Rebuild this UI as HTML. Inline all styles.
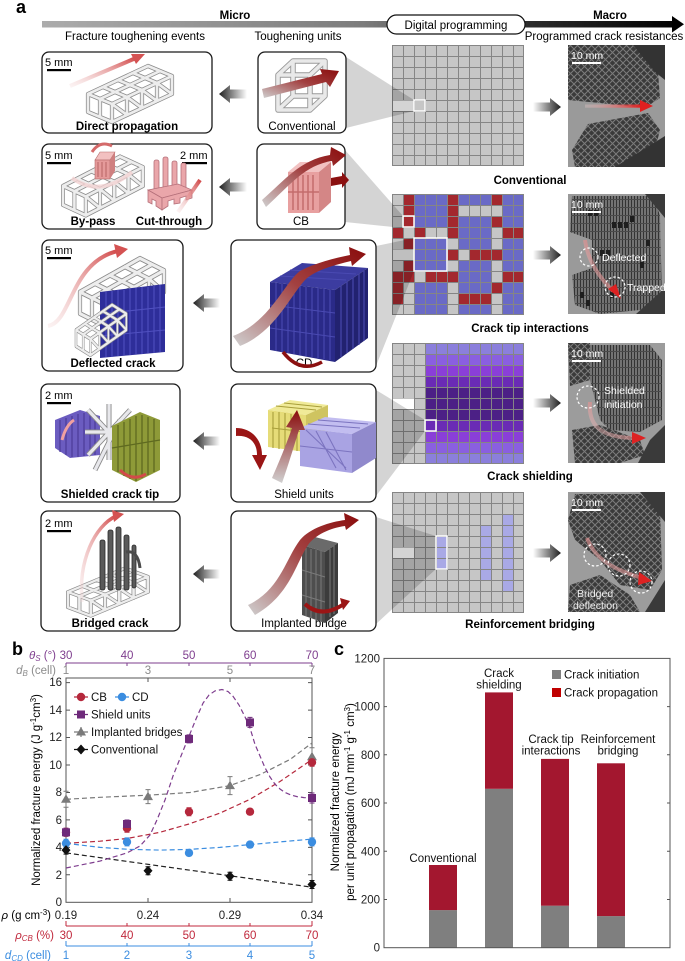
<!DOCTYPE html>
<html><head><meta charset="utf-8"><style>
html,body{margin:0;padding:0;background:#fff}
svg{display:block}
text{font-family:"Liberation Sans",Arial,sans-serif}
</style></head><body>
<svg width="685" height="961" viewBox="0 0 685 961" xmlns="http://www.w3.org/2000/svg">
<defs>
<linearGradient id="bar" gradientUnits="userSpaceOnUse" x1="42" y1="0" x2="684" y2="0"><stop offset="0" stop-color="#acacac"/><stop offset="0.5" stop-color="#7c7c7c"/><stop offset="0.75" stop-color="#2e2e2e"/><stop offset="1" stop-color="#000"/></linearGradient>
<linearGradient id="gl" x1="0" y1="0" x2="1" y2="0"><stop offset="0" stop-color="#1e1e1e"/><stop offset="1" stop-color="#fff"/></linearGradient>
<linearGradient id="gr" x1="0" y1="0" x2="1" y2="0"><stop offset="0" stop-color="#fff"/><stop offset="1" stop-color="#1e1e1e"/></linearGradient>
<linearGradient id="rg" x1="0" y1="1" x2="1" y2="0"><stop offset="0" stop-color="#f3d5d5" stop-opacity="0.3"/><stop offset="1" stop-color="#d24a4a"/></linearGradient>
<linearGradient id="rh" x1="0" y1="0" x2="1" y2="0"><stop offset="0" stop-color="#f0d0d0" stop-opacity="0.3"/><stop offset="1" stop-color="#e02020"/></linearGradient>
<linearGradient id="rib" x1="0" y1="1" x2="1" y2="0"><stop offset="0" stop-color="#cfcfcf"/><stop offset="0.55" stop-color="#a24040"/><stop offset="1" stop-color="#8a0c0c"/></linearGradient>
<linearGradient id="ribv" x1="0" y1="1" x2="0" y2="0"><stop offset="0" stop-color="#d0d0d0"/><stop offset="1" stop-color="#8a0c0c"/></linearGradient>
<pattern id="cells" width="11" height="11" patternUnits="userSpaceOnUse"><path d="M0 0.5H11M0.5 0V11" stroke="#858585" stroke-width="1" fill="none"/></pattern>
<pattern id="mesh" width="7" height="7" patternUnits="userSpaceOnUse"><rect width="7" height="7" fill="#3a3a3a"/><path d="M0 0L7 7M7 0L0 7" stroke="#7c7c7c" stroke-width="1"/></pattern>
<pattern id="mesh2" width="6" height="8" patternUnits="userSpaceOnUse"><rect width="6" height="8" fill="#7a7a7a"/><path d="M1.5 0V8M4.5 0V8" stroke="#333" stroke-width="1.2"/><path d="M0 7.5H6" stroke="#4a4a4a" stroke-width="1"/></pattern>
<g id="lat">
<path d="M0 0L60 -28M12 5L72 -23M24 10L84 -18M0 0L24 10M15 -7L39 3M30 -14L54 -4M45 -21L69 -11M60 -28L84 -18M24 10V28M39 3V21M54 -4V14M69 -11V7M84 -18V0M0 0V18M12 5V23M24 28L84 0M0 18L24 28M24 10L39 21M39 3L54 14M54 -4L69 7M69 -11L84 0" stroke="#8a8a8a" stroke-width="4.2" fill="none" stroke-linecap="round"/>
<path d="M0 0L60 -28M12 5L72 -23M24 10L84 -18M0 0L24 10M15 -7L39 3M30 -14L54 -4M45 -21L69 -11M60 -28L84 -18M24 10V28M39 3V21M54 -4V14M69 -11V7M84 -18V0M0 0V18M12 5V23M24 28L84 0M0 18L24 28M24 10L39 21M39 3L54 14M54 -4L69 7M69 -11L84 0" stroke="#ededed" stroke-width="2.7" fill="none" stroke-linecap="round"/>
</g>
<clipPath id="p1"><rect x="568" y="45" width="97" height="122"/></clipPath>
<clipPath id="p2"><rect x="568" y="194" width="97" height="120"/></clipPath>
<clipPath id="p3"><rect x="568" y="343" width="97" height="120"/></clipPath>
<clipPath id="p4"><rect x="568" y="492" width="97" height="120"/></clipPath>
</defs>

<!-- ===== Panel a header ===== -->
<text x="16" y="13" font-size="18" font-weight="bold">a</text>
<rect x="42" y="21" width="634" height="6.5" fill="url(#bar)"/>
<polygon points="672,16 684,24.2 672,32.5" fill="#000"/>
<text x="235" y="19" font-size="11.5" font-weight="bold" text-anchor="middle">Micro</text>
<text x="610" y="19" font-size="11.5" font-weight="bold" text-anchor="middle">Macro</text>
<rect x="387" y="15" width="138" height="19" rx="9.5" fill="#fff" stroke="#111" stroke-width="1.2"/>
<text x="456" y="29" font-size="11.5" text-anchor="middle">Digital programming</text>
<text x="135" y="40" font-size="11.5" text-anchor="middle">Fracture toughening events</text>
<text x="298" y="40" font-size="11.5" text-anchor="middle">Toughening units</text>
<text x="604" y="40" font-size="11.5" text-anchor="middle">Programmed crack resistances</text>

<!-- ===== Grids ===== -->
<g transform="translate(392,45)">
<rect width="132" height="121" fill="#c6c6c6"/>
<rect width="132" height="121" fill="url(#cells)"/>
<rect x="0" y="55.5" width="22" height="10.5" fill="#fff"/>
<rect x="0.5" y="0.5" width="131" height="120" fill="none" stroke="#858585"/>
</g>
<g transform="translate(392,194)">
<rect width="132" height="121" fill="#c6c6c6"/>
<g fill="#6a6ac6"><rect x="22" width="33" height="121"/><rect x="66" width="33" height="121"/><rect x="110" width="22" height="121"/></g>
<g fill="#c6c6c6"><rect x="66" y="11" width="33" height="11"/><rect x="33" y="33" width="22" height="11"/><rect x="66" y="55" width="11" height="11"/><rect x="22" y="77" width="11" height="11"/></g>
<g fill="#a3282e">
<rect x="22" y="33" width="11" height="11"/><rect x="110" y="33" width="22" height="11"/>
<rect x="77" y="55" width="22" height="11"/>
<rect x="33" y="77" width="22" height="11"/><rect x="110" y="77" width="22" height="11"/>
<rect x="66" y="99" width="33" height="11"/>
<rect x="55" y="0" width="11" height="44"/><rect x="55" y="55" width="11" height="11"/><rect x="55" y="77" width="11" height="11"/>
<rect x="99" y="0" width="11" height="11"/><rect x="99" y="22" width="11" height="11"/><rect x="99" y="55" width="11" height="11"/><rect x="99" y="88" width="11" height="11"/>
<rect x="0" y="33" width="11" height="11"/><rect x="0" y="77" width="11" height="33"/>
<rect x="11" y="0" width="11" height="33"/><rect x="11" y="44" width="11" height="11"/><rect x="11" y="66" width="11" height="22"/>
</g>
<rect width="132" height="121" fill="url(#cells)"/>
<rect x="0" y="55.5" width="22" height="10.5" fill="#e6e6e6"/>
<rect x="0.5" y="0.5" width="131" height="120" fill="none" stroke="#858585"/>
</g>
<g transform="translate(392,343)">
<rect width="132" height="121" fill="#c6c6c6"/>
<rect x="33" y="0" width="99" height="11" fill="#8b7fdc"/>
<rect x="33" y="11" width="99" height="11" fill="#8a5fe0"/>
<rect x="33" y="22" width="99" height="11" fill="#8a3fd8"/>
<rect x="33" y="33" width="99" height="11" fill="#6a2bb5"/>
<rect x="33" y="44" width="99" height="33" fill="#4c2086"/>
<rect x="33" y="77" width="99" height="11" fill="#6a2bb5"/>
<rect x="33" y="88" width="99" height="11" fill="#8a3fd8"/>
<rect x="33" y="99" width="99" height="11" fill="#8a5fe0"/>
<rect x="33" y="110" width="99" height="11" fill="#8b7fdc"/>
<rect width="132" height="121" fill="url(#cells)"/>
<rect x="0" y="55.5" width="22" height="10.5" fill="#fff"/>
<rect x="0.5" y="0.5" width="131" height="120" fill="none" stroke="#858585"/>
</g>
<g transform="translate(392,492)">
<rect width="132" height="121" fill="#c6c6c6"/>
<g fill="#a9a9e6"><rect x="44" y="44" width="11" height="33"/><rect x="88" y="33" width="11" height="55"/><rect x="110" y="22" width="11" height="77"/></g>
<rect width="132" height="121" fill="url(#cells)"/>
<rect x="0" y="55.5" width="22" height="10.5" fill="#fff"/>
<rect x="0.5" y="0.5" width="131" height="120" fill="none" stroke="#858585"/>
</g>

<!-- fans -->
<g fill="#000" fill-opacity="0.17">
<polygon points="346,57 414,100 414,111 346,128"/>
<polygon points="345,150 403,216 403,228 345,222"/>
<polygon points="376,246 414,238 414,271 376,366"/>
<polygon points="376,390 425,420 425,431 376,496"/>
<polygon points="376,517 436,536 436,569 376,624"/>
</g>
<g fill="none" stroke="#fff" stroke-width="1.5">
<rect x="414" y="100" width="11" height="11"/>
<rect x="403" y="216" width="11" height="11"/>
<rect x="414" y="238" width="33" height="33"/>
<rect x="425" y="420" width="11" height="11"/>
<rect x="436" y="536" width="11" height="33"/>
</g>

<!-- grid labels -->
<g font-size="11.5" font-weight="bold" text-anchor="middle">
<text x="530" y="184">Conventional</text>
<text x="530" y="332">Crack tip interactions</text>
<text x="530" y="480">Crack shielding</text>
<text x="530" y="628">Reinforcement bridging</text>
</g>

<!-- boxes -->
<g fill="#fff" stroke="#1a1a1a" stroke-width="1.3">
<rect x="42" y="52" width="170" height="81" rx="7"/>
<rect x="258" y="52" width="88" height="81" rx="7"/>
<rect x="42" y="144" width="170" height="85" rx="7"/>
<rect x="257" y="144" width="88" height="85" rx="7"/>
<rect x="42" y="240" width="141" height="131" rx="7"/>
<rect x="231" y="240" width="145" height="132" rx="7"/>
<rect x="41" y="384" width="139" height="118" rx="7"/>
<rect x="231" y="384" width="145" height="118" rx="7"/>
<rect x="41" y="511" width="139" height="120" rx="7"/>
<rect x="231" y="511" width="145" height="120" rx="7"/>
</g>

<!-- arrows -->
<g fill="url(#gl)">
<polygon points="219,94 230,85 230,89.5 247,89.5 247,98.5 230,98.5 230,103"/>
<polygon points="219,187 230,178 230,182.5 247,182.5 247,191.5 230,191.5 230,196"/>
<polygon points="193,303 204,294 204,298.5 220,298.5 220,307.5 204,307.5 204,312"/>
<polygon points="193,441 204,432 204,436.5 220,436.5 220,445.5 204,445.5 204,450"/>
<polygon points="193,574 204,565 204,569.5 220,569.5 220,578.5 204,578.5 204,583"/>
</g>
<g fill="url(#gr)">
<polygon points="533,102.5 550,102.5 550,98 561,107 550,116 550,111.5 533,111.5"/>
<polygon points="533,250.5 550,250.5 550,246 561,255 550,264 550,259.5 533,259.5"/>
<polygon points="533,398.5 550,398.5 550,394 561,403 550,412 550,407.5 533,407.5"/>
<polygon points="533,548.5 550,548.5 550,544 561,553 550,562 550,557.5 533,557.5"/>
</g>

<!-- scale bars in boxes -->
<g font-size="11">
<text x="45" y="66">5 mm</text><rect x="47" y="69" width="24" height="2.2"/>
<text x="45" y="159">5 mm</text><rect x="47" y="162" width="24" height="2.2"/>
<text x="180" y="159">2 mm</text><rect x="182" y="162" width="25" height="2.2"/>
<text x="45" y="254">5 mm</text><rect x="47" y="257" width="24" height="2.2"/>
<text x="45" y="399">2 mm</text><rect x="47" y="402" width="24" height="2.2"/>
<text x="45" y="527">2 mm</text><rect x="47" y="530" width="24" height="2.2"/>
</g>

<!-- box labels -->
<g font-size="11.5" font-weight="bold" text-anchor="middle">
<text x="127" y="130">Direct propagation</text>
<text x="93" y="225">By-pass</text>
<text x="169" y="225">Cut-through</text>
<text x="113" y="367">Deflected crack</text>
<text x="110" y="498">Shielded crack tip</text>
<text x="110" y="627">Bridged crack</text>
</g>
<g font-size="11.5" text-anchor="middle">
<text x="302" y="130">Conventional</text>
<text x="301" y="225">CB</text>
<text x="304" y="367">CD</text>
<text x="304" y="498">Shield units</text>
<text x="304" y="627">Implanted bridge</text>
</g>

<!-- Row1 illustrations -->
<use href="#lat" transform="translate(88,94)"/>
<line x1="70" y1="86" x2="136" y2="58" stroke="url(#rg)" stroke-width="4"/>
<polygon points="131,54 145,54 136,64" fill="#d45252"/>
<g fill="none" stroke-linejoin="round">
<path d="M278 75H310V110H278ZM293 61H325V96H293ZM278 75L293 61M310 75L325 61M310 110L325 96M278 110L293 96" stroke="#9a9a9a" stroke-width="5.5"/>
<path d="M278 75H310V110H278ZM293 61H325V96H293ZM278 75L293 61M310 75L325 61M310 110L325 96M278 110L293 96" stroke="#e9e9e9" stroke-width="3.6"/>
</g>
<polygon points="262,89 322,74 320,69 339,71 330,87 326,82 264,98" fill="url(#rib)"/>

<!-- Row2 illustrations -->
<use href="#lat" transform="translate(63,186) scale(0.95,1.05)"/>
<polygon points="95,160 100,152 115,152 110,160" fill="#f2c0c0" stroke="#b56a6a" stroke-width="0.6"/>
<rect x="95" y="160" width="15" height="19" fill="#e59a9a" stroke="#b56a6a" stroke-width="0.6"/>
<polygon points="110,160 115,152 115,171 110,179" fill="#cf8080"/>
<path d="M98 162V177M102 162V177M106 162V177" stroke="#b86464" stroke-width="1"/>
<path d="M72 178Q100 198 132 172" stroke="#f2d2d2" stroke-width="4" fill="none" opacity="0.8"/>
<path d="M92 152Q100 140 112 146" stroke="#d46a6a" stroke-width="3" fill="none"/>
<g fill="#eaa6aa" stroke="#b5707a" stroke-width="0.8">
<rect x="154" y="160" width="5" height="36" rx="2"/>
<rect x="163" y="157" width="5" height="34" rx="2"/>
<rect x="172" y="161" width="5" height="32" rx="2"/>
<rect x="181" y="163" width="5" height="28" rx="2"/>
<polygon points="148,190 178,184 192,190 162,198"/>
<polygon points="148,190 162,198 162,210 156,206 156,201 152,199 152,204 148,202"/>
<polygon points="162,198 192,190 192,198 186,200 186,196 180,198 180,203 174,204 174,199 168,201 168,206 162,210"/>
</g>
<line x1="178" y1="212" x2="200" y2="180" stroke="url(#rg)" stroke-width="4"/>
<polygon points="288,172 300,162 331,162 319,172" fill="#f2c2c2"/>
<rect x="288" y="172" width="31" height="41" fill="#e8a0a0"/>
<polygon points="319,172 331,162 331,202 319,213" fill="#d48686"/>
<path d="M293 175V210M298 175V210M303 175V210M308 175V210M313 175V210M288 192H319" stroke="#c46c6c" stroke-width="1.5"/>
<path d="M262 200C285 180 300 160 330 155L331 147L346 155L333 166L332 161C305 165 290 185 266 207Z" fill="url(#rib)"/>
<polygon points="331,178 342,176 342,172 349,180 342,188 342,184 331,186" fill="#8b1010"/>

<!-- Row3 illustrations -->
<use href="#lat" transform="translate(80,292) scale(1,1.2)"/>
<polygon points="100,292 165,284 165,352 100,358" fill="#2e2e9a"/>
<path d="M106 292V357M112 291V357M118 290V356M124 290V355M130 289V355M136 288V354M142 287V354M148 287V353M154 286V353M160 285V352M100 314L165 307M100 336L165 330" stroke="#5050c0" stroke-width="1.1"/>
<use href="#lat" transform="translate(76,330) scale(0.6,0.9)"/>
<path d="M48 326C72 322 70 262 118 251" stroke="url(#rg)" stroke-width="4" fill="none"/>
<polygon points="114,244 128,249 117,258" fill="#d45252"/>
<polygon points="270,282 302,263 368,268 335,290" fill="#3c3ca0"/>
<polygon points="270,282 335,290 335,362 270,350" fill="#2a2a88"/>
<polygon points="335,290 368,268 368,338 335,362" fill="#222270"/>
<path d="M276 283V351M282 284V352M288 285V353M294 285V354M300 286V355M306 287V356M312 288V357M318 288V358M324 289V359M330 290V360M270 305L335 313M270 328L335 337M341 286V357M347 282V353M353 278V349M359 274V345M364 271V341M280 276L346 280M290 270L356 274" stroke="#4a4ab2" stroke-width="1.1"/>
<path d="M233 336C270 322 285 282 300 271C315 263 335 258 350 255L349 247L366 254L352 266L351 261C335 265 315 270 305 280C290 296 275 332 240 346Z" fill="url(#rib)"/>
<path d="M283 352Q300 374 322 362" stroke="#8b1010" stroke-width="3.5" fill="none"/>

<!-- Row4 illustrations -->
<polygon points="55,420 80,410 100,416 100,455 70,458 55,448" fill="#6b5cc0"/>
<path d="M60 420V452M66 418V455M72 416V457M78 414V457M84 413V456M90 414V456M95 415V455" stroke="#4b3c98" stroke-width="1.2"/>
<path d="M88 410L130 455M130 410L88 455M109 404V460M85 432H135M95 470L120 420" stroke="#8a8a8a" stroke-width="5" fill="none"/>
<path d="M88 410L130 455M130 410L88 455M109 404V460M85 432H135M95 470L120 420" stroke="#e8e8ec" stroke-width="3.2" fill="none"/>
<polygon points="112,426 140,412 160,420 160,470 136,482 112,470" fill="#8e9a38"/>
<path d="M118 425V472M124 422V476M130 419V479M136 416V481M142 415V478M148 417V475M154 419V472M112 448L160 440" stroke="#5f6a20" stroke-width="1.3"/>
<path d="M62 440Q66 425 74 420" stroke="#f0a0a0" stroke-width="3" fill="none"/>
<path d="M120 470Q132 482 146 474" stroke="#d24a4a" stroke-width="3" fill="none"/>
<polygon points="268,410 290,400 328,405 306,415" fill="#f0ea98"/>
<polygon points="268,410 306,415 306,452 268,447" fill="#e6dc78"/>
<polygon points="306,415 328,405 328,440 306,452" fill="#cfc460"/>
<path d="M273 412V448M279 412V449M285 413V450M291 414V450M297 414V451M272 428L306 432M276 406L316 410M284 403L322 407" stroke="#a89e3a" stroke-width="1.1"/>
<polygon points="300,428 325,417 376,422 352,434" fill="#c2bdf0"/>
<polygon points="300,428 352,434 352,473 300,466" fill="#a9a3e3"/>
<polygon points="352,434 376,422 376,458 352,473" fill="#9089cc"/>
<path d="M306 430L346 468M316 431L336 468M326 432L346 470M300 446L352 452M308 424L360 428M318 420L368 424" stroke="#7c74c0" stroke-width="1.1"/>
<path d="M236 428C252 428 262 440 262 455L267 455L260 470L252 455L257 455C257 443 250 435 236 436Z" fill="#9a1515"/>
<path d="M272 478C280 460 288 440 292 428L286 427L297 410L305 430L299 430C294 446 288 466 282 483Z" fill="url(#ribv)"/>

<!-- Row5 illustrations -->
<use href="#lat" transform="translate(68,592) scale(0.95,0.85)"/>
<g fill="#5a5a5a" stroke="#2a2a2a" stroke-width="0.8">
<rect x="100" y="540" width="5" height="50" rx="2"/>
<rect x="108" y="530" width="5" height="60" rx="2"/>
<rect x="116" y="527" width="5" height="63" rx="2"/>
<rect x="124" y="535" width="5" height="55" rx="2"/>
<rect x="132" y="545" width="4" height="43" rx="2"/>
<path d="M126 552Q138 550 140 568" fill="none" stroke-width="3" stroke="#4a4a4a"/>
</g>
<path d="M82 602C78 560 95 526 116 516" stroke="url(#rg)" stroke-width="3.5" fill="none"/>
<polygon points="112,510 124,514 114,522" fill="#d45252"/>
<polygon points="302,545 315,537 338,543 325,552" fill="#6a6a6a"/>
<polygon points="302,545 325,552 325,623 302,615" fill="#4e4e4e"/>
<polygon points="325,552 338,543 338,613 325,623" fill="#3c3c3c"/>
<path d="M306 548V616M311 549V618M316 550V620M321 551V621M302 570L325 577M302 595L325 602M330 549V617M334 546V614" stroke="#7a7a7a" stroke-width="1"/>
<path d="M248 605C280 590 285 560 300 540C310 528 330 522 345 520L344 513L359 520L346 530L345 526C330 528 315 535 308 545C295 565 290 595 255 615Z" fill="url(#rib)"/>
<path d="M305 604C318 616 332 612 344 604" stroke="#9b1515" stroke-width="4" fill="none"/>
<polygon points="340,598 350,601 343,610" fill="#9b1515"/>

<!-- Photos -->
<g clip-path="url(#p1)">
<rect x="568" y="45" width="97" height="122" fill="#9a9a9a"/>
<polygon points="568,45 640,45 658,72 660,98 645,108 600,103 568,100" fill="url(#mesh)"/>
<polygon points="588,124 648,113 660,130 655,150 630,167 575,167 572,150" fill="url(#mesh)"/>
<polygon points="633,45 665,45 665,80 655,72" fill="#333"/>
<polygon points="615,167 665,167 665,136" fill="#333"/>
<rect x="585" y="104.5" width="56" height="3.2" fill="url(#rh)"/>
<polygon points="640,100 653,106 640,112" fill="#e02020"/>
</g>
<g clip-path="url(#p2)">
<rect x="568" y="194" width="97" height="120" fill="#9a9a9a"/>
<polygon points="572,196 652,196 660,215 662,300 640,310 600,314 575,305 572,275 592,268 592,240 570,232" fill="url(#mesh2)"/>
<g fill="#1e1e1e"><rect x="588" y="210" width="4" height="6"/><rect x="594" y="210" width="4" height="6"/><rect x="612" y="222" width="4" height="6"/><rect x="618" y="222" width="4" height="6"/><rect x="624" y="222" width="4" height="6"/><rect x="630" y="216" width="4" height="6"/><rect x="600" y="250" width="4" height="6"/><rect x="606" y="250" width="4" height="6"/><rect x="640" y="262" width="4" height="6"/><rect x="610" y="292" width="4" height="6"/><rect x="580" y="292" width="4" height="6"/><rect x="586" y="300" width="4" height="6"/><rect x="646" y="240" width="4" height="6"/></g>
<polygon points="645,194 665,194 665,218" fill="#3a3a3a"/>
<polygon points="636,314 665,314 665,288" fill="#3a3a3a"/>
<path d="M585 240C588 262 600 278 613 291" stroke="url(#rg)" stroke-width="4" fill="none"/>
<polygon points="608,289 621,299 616,284" fill="#d22"/>
<g fill="none" stroke="#fff" stroke-width="1.2" stroke-dasharray="2.5,2"><circle cx="589" cy="257" r="9"/><circle cx="615" cy="287" r="10"/></g>
<text x="602" y="261" font-size="10.5" fill="#fff">Deflected</text>
<text x="627" y="291" font-size="10.5" fill="#fff">Trapped</text>
</g>
<g clip-path="url(#p3)">
<rect x="568" y="343" width="97" height="120" fill="#9c9c9c"/>
<polygon points="590,345 650,345 662,360 662,420 640,432 610,430 600,420 590,380" fill="url(#mesh2)"/>
<polygon points="568,343 590,343 590,380 570,386" fill="url(#mesh)"/>
<polygon points="572,430 600,425 640,440 645,455 620,463 575,463" fill="url(#mesh)"/>
<polygon points="638,463 665,463 665,425 650,440" fill="#3a3a3a"/>
<path d="M590 402C588 425 600 438 636 438" stroke="url(#rg)" stroke-width="4" fill="none"/>
<polygon points="632,432 646,438 632,444" fill="#d22"/>
<circle cx="588" cy="397" r="11" fill="none" stroke="#fff" stroke-width="1.2" stroke-dasharray="2.5,2"/>
<text x="604" y="394" font-size="10.5" fill="#fff">Shielded</text>
<text x="604" y="408" font-size="10.5" fill="#fff">initiation</text>
</g>
<g clip-path="url(#p4)">
<rect x="568" y="492" width="97" height="120" fill="#9c9c9c"/>
<polygon points="575,494 640,494 660,510 662,570 650,590 620,585 600,560 575,540 568,520" fill="url(#mesh)"/>
<polygon points="570,585 600,575 630,595 640,612 568,612" fill="url(#mesh)"/>
<polygon points="640,492 665,492 665,522" fill="#3a3a3a"/>
<polygon points="645,612 665,612 665,580" fill="#3a3a3a"/>
<path d="M587 538C595 560 615 570 642 578" stroke="url(#rg)" stroke-width="4" fill="none"/>
<polygon points="639,572 652,581 638,585" fill="#d22"/>
<g fill="none" stroke="#fff" stroke-width="1.2" stroke-dasharray="2.5,2"><circle cx="595" cy="555" r="11"/><circle cx="619" cy="565" r="11"/><circle cx="641" cy="582" r="11"/></g>
<text x="577" y="597" font-size="10.5" fill="#eee">Bridged</text>
<text x="573" y="609" font-size="10.5" fill="#eee">deflection</text>
</g>
<g font-size="10.5" fill="#fff">
<text x="571" y="59">10 mm</text><rect x="572" y="62" width="29" height="2"/>
<text x="571" y="208">10 mm</text><rect x="572" y="211" width="29" height="2"/>
<text x="571" y="357">10 mm</text><rect x="572" y="360" width="29" height="2"/>
<text x="571" y="506">10 mm</text><rect x="572" y="509" width="29" height="2"/>
</g>

<!-- ===== Panel b ===== -->
<text x="12" y="655" font-size="18" font-weight="bold">b</text>
<g font-size="11.5" fill="#7e3d8e" text-anchor="middle">
<text x="66" y="659">30</text><text x="127" y="659">40</text><text x="189" y="659">50</text><text x="250" y="659">60</text><text x="312" y="659">70</text>
</g>
<text x="56" y="659" font-size="11.5" fill="#7e3d8e" text-anchor="end"><tspan font-style="italic">θ</tspan><tspan font-style="italic" font-size="8" dy="2">S</tspan><tspan dy="-2"> (°)</tspan></text>
<path d="M66 663H312M66 663V667M127 663V666M189 663V666M250 663V666M312 663V667" stroke="#7e3d8e" stroke-width="1"/>
<g font-size="11.5" fill="#8c8c8c" text-anchor="middle">
<text x="66" y="674">1</text><text x="148" y="674">3</text><text x="230" y="674">5</text><text x="312" y="674">7</text>
</g>
<text x="56" y="674" font-size="11.5" fill="#8c8c8c" text-anchor="end"><tspan font-style="italic">d</tspan><tspan font-style="italic" font-size="8" dy="2">B</tspan><tspan dy="-2"> (cell)</tspan></text>
<rect x="66" y="678" width="246" height="224.3" fill="none" stroke="#555" stroke-width="1"/>
<path d="M66 874.8H70M66 847.4H70M66 819.9H70M66 792.5H70M66 765H70M66 737.5H70M66 710.1H70M66 682.6H70M312 874.8H308M312 847.4H308M312 819.9H308M312 792.5H308M312 765H308M312 737.5H308M312 710.1H308M312 682.6H308M148 902.3V898M230 902.3V898M148 678V682M230 678V682" stroke="#555" stroke-width="1"/>
<g font-size="11.5" text-anchor="end" fill="#222">
<text x="62" y="906">0</text><text x="62" y="879">2</text><text x="62" y="851">4</text><text x="62" y="824">6</text><text x="62" y="796">8</text><text x="62" y="769">10</text><text x="62" y="741">12</text><text x="62" y="714">14</text><text x="62" y="686">16</text>
</g>
<text transform="translate(40,790) rotate(-90)" font-size="11.5" text-anchor="middle">Normalized fracture energy (J g<tspan font-size="8" dy="-4">-1</tspan><tspan dy="4">cm</tspan><tspan font-size="8" dy="-4">3</tspan><tspan dy="4">)</tspan></text>

<!-- bottom axes -->
<g font-size="11.5" text-anchor="middle" fill="#222">
<text x="66" y="919">0.19</text><text x="148" y="919">0.24</text><text x="230" y="919">0.29</text><text x="312" y="919">0.34</text>
</g>
<text x="51" y="919" font-size="11.5" text-anchor="end"><tspan font-style="italic">ρ</tspan> (g cm<tspan font-size="8" dy="-4">-3</tspan><tspan dy="4">)</tspan></text>
<path d="M66 926H312M66 926V921M127 926V923M189 926V923M250 926V923M312 926V921" stroke="#c0283c" stroke-width="1"/>
<g font-size="11.5" text-anchor="middle" fill="#c0283c">
<text x="66" y="939">30</text><text x="127" y="939">40</text><text x="189" y="939">50</text><text x="250" y="939">60</text><text x="312" y="939">70</text>
</g>
<text x="54" y="939" font-size="11.5" text-anchor="end" fill="#c0283c"><tspan font-style="italic">ρ</tspan><tspan font-style="italic" font-size="8" dy="2">CB</tspan><tspan dy="-2"> (%)</tspan></text>
<path d="M66 946H312M66 946V941M127 946V943M189 946V943M250 946V943M312 946V941" stroke="#3b8de0" stroke-width="1"/>
<g font-size="11.5" text-anchor="middle" fill="#3b8de0">
<text x="66" y="959">1</text><text x="127" y="959">2</text><text x="189" y="959">3</text><text x="250" y="959">4</text><text x="312" y="959">5</text>
</g>
<text x="51" y="959" font-size="11.5" text-anchor="end" fill="#3b8de0"><tspan font-style="italic">d</tspan><tspan font-style="italic" font-size="8" dy="2">CD</tspan><tspan dy="-2"> (cell)</tspan></text>

<!-- fits -->
<g fill="none" stroke-width="1.2" stroke-dasharray="5,3">
<polyline stroke="#b5283c" points="66,843.3 100,841.2 127,838.5 160,832.3 189,824 220,813.1 250,799.3 280,781.5 312,759.5"/>
<polyline stroke="#3b8de0" points="66,843.3 100,847.4 130,849.4 160,850.1 189,849.4 220,847.4 250,844.6 280,841.9 312,839.1"/>
<polyline stroke="#7a7a7a" points="66,799.3 100,797.3 148,795.2 190,792.5 230,785.6 260,774.6 290,759.5 312,743"/>
<polyline stroke="#222" points="66,852.9 312,887.2"/>
<polyline stroke="#7e3d8e" points="66,868 100,861.1 127,852.9 140,846 150,835 157,819.9 165,800 173,776 181,756 189,736.2 196,719 203,703.2 209,695 215,690.9 222,689.5 228,691.5 233,696.3 239,705 245,716.9 250,728 255,744.4 260,756 265,767.7 270,777 275,784.2 280,789 285,792.5 291,795 297,796.6 304,797.6 312,798"/>
</g>

<!-- data points -->
<g stroke="#222" stroke-width="1">
<path d="M66 791.3V807.3M63.5 791.3H68.5M63.5 807.3H68.5M148 789.6V803.6M145.5 789.6H150.5M145.5 803.6H150.5M230 776.6V794.6M227.5 776.6H232.5M227.5 794.6H232.5M312 747.8V765.8M309.5 747.8H314.5M309.5 765.8H314.5" stroke="#7a7a7a"/>
<path d="M66 828.3V836.3M63.5 828.3H68.5M63.5 836.3H68.5M127 824.2V832.2M124.5 824.2H129.5M124.5 832.2H129.5M189 807.7V815.7M186.5 807.7H191.5M186.5 815.7H191.5M250 808.7V814.7M247.5 808.7H252.5M247.5 814.7H252.5M312 758.3V766.3M309.5 758.3H314.5M309.5 766.3H314.5" stroke="#b5283c"/>
<path d="M66 839.3V847.3M63.5 839.3H68.5M63.5 847.3H68.5M127 837.9V845.9M124.5 837.9H129.5M124.5 845.9H129.5M189 849.9V855.9M186.5 849.9H191.5M186.5 855.9H191.5M250 841.6V847.6M247.5 841.6H252.5M247.5 847.6H252.5M312 837.9V845.9M309.5 837.9H314.5M309.5 845.9H314.5" stroke="#3b8de0"/>
<path d="M66 828.3V836.3M63.5 828.3H68.5M63.5 836.3H68.5M127 820V828M124.5 820H129.5M124.5 828H129.5M189 734.9V742.9M186.5 734.9H191.5M186.5 742.9H191.5M250 717.4V727.4M247.5 717.4H252.5M247.5 727.4H252.5M312 793V803M309.5 793H314.5M309.5 803H314.5" stroke="#6e2a7a"/>
<path d="M66 846.1V854.1M63.5 846.1H68.5M63.5 854.1H68.5M148 866.7V874.7M145.5 866.7H150.5M145.5 874.7H150.5M230 872.2V880.2M227.5 872.2H232.5M227.5 880.2H232.5M312 880.5V888.5M309.5 880.5H314.5M309.5 888.5H314.5" stroke="#111"/>
</g>
<g fill="#7a7a7a"><polygon points="66,794.3 71,802.8 61,802.8"/><polygon points="148,791.6 153,800.1 143,800.1"/><polygon points="230,780.6 235,789.1 225,789.1"/><polygon points="312,751.8 317,760.3 307,760.3"/></g>
<g fill="#b5283c"><circle cx="66" cy="832.3" r="4.2"/><circle cx="127" cy="828.2" r="4.2"/><circle cx="189" cy="811.7" r="4.2"/><circle cx="250" cy="811.7" r="4.2"/><circle cx="312" cy="762.3" r="4.2"/></g>
<g fill="#3b8de0"><circle cx="66" cy="843.3" r="4.2"/><circle cx="127" cy="841.9" r="4.2"/><circle cx="189" cy="852.9" r="4.2"/><circle cx="250" cy="844.6" r="4.2"/><circle cx="312" cy="841.9" r="4.2"/></g>
<g fill="#6e2a7a"><rect x="62" y="828.3" width="8" height="8"/><rect x="123" y="820" width="8" height="8"/><rect x="185" y="734.9" width="8" height="8"/><rect x="246" y="718.4" width="8" height="8"/><rect x="308" y="794" width="8" height="8"/></g>
<g fill="#111"><polygon points="66,845.1 70.5,850.1 66,855.1 61.5,850.1"/><polygon points="148,865.7 152.5,870.7 148,875.7 143.5,870.7"/><polygon points="230,871.2 234.5,876.2 230,881.2 225.5,876.2"/><polygon points="312,879.5 316.5,884.5 312,889.5 307.5,884.5"/></g>

<!-- legend b -->
<g stroke-width="1.2">
<path d="M74 697H88M81 693V701" stroke="#b5283c"/><circle cx="81" cy="697" r="4.2" fill="#b5283c"/>
<path d="M115 697H129M122 693V701" stroke="#3b8de0"/><circle cx="122" cy="697" r="4.2" fill="#3b8de0"/>
<path d="M74 714.5H88M81 710.5V718.5" stroke="#6e2a7a"/><rect x="77" y="710.5" width="8" height="8" fill="#6e2a7a"/>
<path d="M74 732H88M81 727V737" stroke="#7a7a7a"/><polygon points="81,727 86,735.5 76,735.5" fill="#7a7a7a"/>
<path d="M74 749.5H88M81 745V754" stroke="#111"/><polygon points="81,744.5 85.5,749.5 81,754.5 76.5,749.5" fill="#111"/>
</g>
<g font-size="11.5" fill="#111">
<text x="91" y="701">CB</text><text x="132" y="701">CD</text>
<text x="91" y="718.5">Shield units</text>
<text x="91" y="736">Implanted bridges</text>
<text x="91" y="753.5">Conventional</text>
</g>

<!-- ===== Panel c ===== -->
<text x="334" y="655" font-size="18" font-weight="bold">c</text>
<g fill="#7f7f7f">
<rect x="429" y="910.1" width="28" height="37.6"/>
<rect x="485" y="788.8" width="28" height="158.9"/>
<rect x="541" y="905.7" width="28" height="42"/>
<rect x="597" y="916.1" width="28" height="31.6"/>
</g>
<g fill="#a3172f">
<rect x="429" y="865" width="28" height="45.1"/>
<rect x="485" y="692.4" width="28" height="96.4"/>
<rect x="541" y="758.9" width="28" height="146.8"/>
<rect x="597" y="763.3" width="28" height="152.8"/>
</g>
<rect x="384" y="658.4" width="286" height="289.3" fill="none" stroke="#555" stroke-width="1"/>
<path d="M384 899.5H387M384 851.3H387M384 803H387M384 754.8H387M384 706.6H387M670 899.5H667M670 851.3H667M670 803H667M670 754.8H667M670 706.6H667" stroke="#555" stroke-width="1"/>
<g font-size="11.5" text-anchor="end" fill="#222">
<text x="380" y="951.7">0</text><text x="380" y="903.5">200</text><text x="380" y="855.3">400</text><text x="380" y="807">600</text><text x="380" y="758.8">800</text><text x="380" y="710.6">1000</text><text x="380" y="662.4">1200</text>
</g>
<text transform="translate(339,802) rotate(-90)" font-size="11.5" text-anchor="middle">Normalized fracture energy</text>
<text transform="translate(354,802) rotate(-90)" font-size="11.5" text-anchor="middle">per unit propagation (mJ mm<tspan font-size="8" dy="-4">-1</tspan><tspan dy="4"> g</tspan><tspan font-size="8" dy="-4">-1</tspan><tspan dy="4"> cm</tspan><tspan font-size="8" dy="-4">3</tspan><tspan dy="4">)</tspan></text>
<g font-size="11.5" text-anchor="middle" fill="#111">
<text x="443" y="862">Conventional</text>
<text x="499" y="677">Crack</text><text x="499" y="688.5">shielding</text>
<text x="551" y="743">Crack tip</text><text x="551" y="754.5">interactions</text>
<text x="618" y="743">Reinforcement</text><text x="618" y="754.5">bridging</text>
</g>
<rect x="552" y="670" width="9" height="9" fill="#7f7f7f"/>
<rect x="552" y="688" width="9" height="9" fill="#c00000"/>
<g font-size="11.5" fill="#111">
<text x="564" y="678.5">Crack initiation</text>
<text x="564" y="696.5">Crack propagation</text>
</g>
</svg>
</body></html>
